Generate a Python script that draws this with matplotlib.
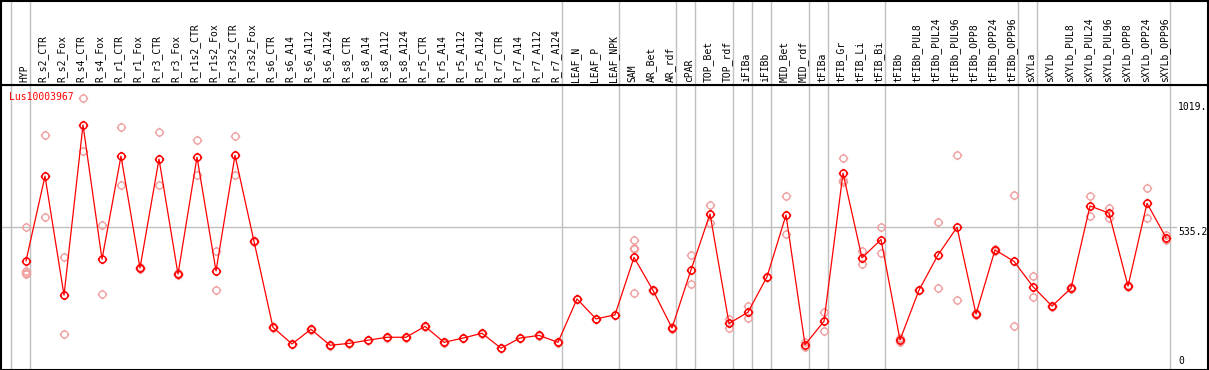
import matplotlib
matplotlib.use('Agg')
import matplotlib.pyplot as plt
from matplotlib.path import Path
import matplotlib.transforms as mtransforms

# tissue / sample names along the top
labels = ['HYP', 'R_s2_CTR', 'R_s2_Fox', 'R_s4_CTR', 'R_s4_Fox', 'R_r1_CTR', 'R_r1_Fox',
          'R_r3_CTR', 'R_r3_Fox', 'R_r1s2_CTR', 'R_r1s2_Fox', 'R_r3s2_CTR', 'R_r3s2_Fox',
          'R_s6_CTR', 'R_s6_A14', 'R_s6_A112', 'R_s6_A124', 'R_s8_CTR', 'R_s8_A14',
          'R_s8_A112', 'R_s8_A124', 'R_r5_CTR', 'R_r5_A14', 'R_r5_A112', 'R_r5_A124',
          'R_r7_CTR', 'R_r7_A14', 'R_r7_A112', 'R_r7_A124', 'LEAF_N', 'LEAF_P', 'LEAF_NPK',
          'SAM', 'AR_Bet', 'AR_rdf', 'cPAR', 'TOP_Bet', 'TOP_rdf', 'iFIBa', 'iFIBb',
          'MID_Bet', 'MID_rdf', 'tFIBa', 'tFIB_Gr', 'tFIB_Li', 'tFIB_Bi', 'tFIBb',
          'tFIBb_PUL8', 'tFIBb_PUL24', 'tFIBb_PUL96', 'tFIBb_OPP8', 'tFIBb_OPP24',
          'tFIBb_OPP96', 'sXYLa', 'sXYLb', 'sXYLb_PUL8', 'sXYLb_PUL24', 'sXYLb_PUL96',
          'sXYLb_OPP8', 'sXYLb_OPP24', 'sXYLb_OPP96']

# mean expression per sample
means = [408, 726, 279, 918, 414, 801, 381, 790, 358, 797, 370, 804, 481,
         158, 96, 151, 91, 98, 110, 121, 121, 162, 102, 118, 136, 80, 118, 128, 102,
         265, 190, 205, 421, 297, 156, 374, 584, 173, 215, 348, 580, 93, 181,
         737, 419, 488, 111, 298, 430, 534, 208, 449, 406, 311, 238, 305, 614,
         587, 313, 624, 495]

# replicate values
reps = [[536, 371, 361, 357], [880, 572], [423, 133], [1019, 820], [542, 283],
        [909, 693], [383, 378], [892, 693], [362, 355], [862, 730], [444, 298],
        [875, 730], [484, 478], [160, 156], [97, 95], [152, 150], [92, 90], [99, 97],
        [111, 109], [122, 120], [122, 120], [163, 161], [103, 101], [119, 117],
        [137, 135], [81, 79], [119, 117], [129, 127], [103, 101], [266, 264],
        [191, 189], [206, 204], [486, 457, 451, 286], [298, 296], [158, 153],
        [430, 320], [618, 549], [188, 155], [240, 194], [349, 347], [651, 508],
        [103, 83], [216, 146], [795, 710, 705], [446, 395], [535, 436], [102, 119],
        [299, 297], [553, 305], [804, 261], [212, 205], [452, 446], [654, 162],
        [350, 272], [240, 236], [308, 301], [651, 576], [606, 570], [316, 310],
        [680, 568], [504, 485]]

# group separators (drawn after these sample indices)
separators = [-1, 0, 28, 31, 34, 35, 37, 38, 39, 41, 42, 45, 52, 53, 60]

gene = 'Lus10003967'
y_max = 1019.
y_mid = 535.2

W, H = 1209, 370
fig = plt.figure(figsize=(W / 100, H / 100), dpi=100)


def box(l, t, r, b):
    return [l / W, 1 - b / H, (r - l) / W, (b - t) / H]


ax = fig.add_axes(box(1, 85, 1208, 369.5))
hd = fig.add_axes(box(1, 0.5, 1208, 85), sharex=ax)

xs = list(range(len(labels)))
ax.set_xlim(-1.316, 62.21)
ax.set_ylim(0, 1068)
hd.set_ylim(0, 1)

for a in (ax, hd):
    a.set_xticks([])
    a.set_yticks([])
    for s in a.spines.values():
        s.set_color('black')
        s.set_linewidth(1.5)
    for sep in separators:
        a.axvline(sep + 0.23, color='#c0c0c0', lw=1, zorder=0)

ax.axhline(y_mid, xmin=0, xmax=(1176 - 1) / 1207, color='#c0c0c0', lw=1, zorder=0)

# circle marker with small ticks
verts = list(Path.unit_circle().vertices)
codes = list(Path.unit_circle().codes)
for dx, dy in [(0, 1), (0, -1), (1, 0), (-1, 0)]:
    verts += [(dx, dy), (dx * 1.35, dy * 1.35)]
    codes += [Path.MOVETO, Path.LINETO]
mk = Path(verts, codes)

for i, r in enumerate(reps):
    ax.plot([i] * len(r), r, ls='none', marker=mk, ms=6.8, mfc='none',
            mec='#f0a0a0', mew=1.0, zorder=2)

ax.plot(xs, means, color='red', lw=0.9, marker=mk, ms=6.8, mfc='none',
        mec='red', mew=1.1, zorder=3)

trans = mtransforms.blended_transform_factory(hd.transData, hd.transAxes)
for i, lab in enumerate(labels):
    hd.text(i - 0.1, 0.03, lab, rotation=90, ha='center', va='bottom',
            family='DejaVu Sans Mono', fontsize=7, transform=trans)

ax.text(0.0069, 0.957, gene, color='red', family='DejaVu Sans Mono', fontsize=7,
        ha='left', va='center', transform=ax.transAxes)

lx = (1178 - 26) / 19
ax.annotate('1019.', xy=(lx, y_max), xytext=(0, -4), textcoords='offset pixels',
            ha='left', va='top', family='DejaVu Sans Mono', fontsize=7)
ax.annotate('%.1f' % y_mid, xy=(lx, y_mid), xytext=(0, 0), textcoords='offset pixels',
            ha='left', va='top', family='DejaVu Sans Mono', fontsize=7)
ax.annotate('0', xy=(lx, 0), xytext=(0, 4), textcoords='offset pixels',
            ha='left', va='bottom', family='DejaVu Sans Mono', fontsize=7)

fig.savefig('out.png', dpi=100)
